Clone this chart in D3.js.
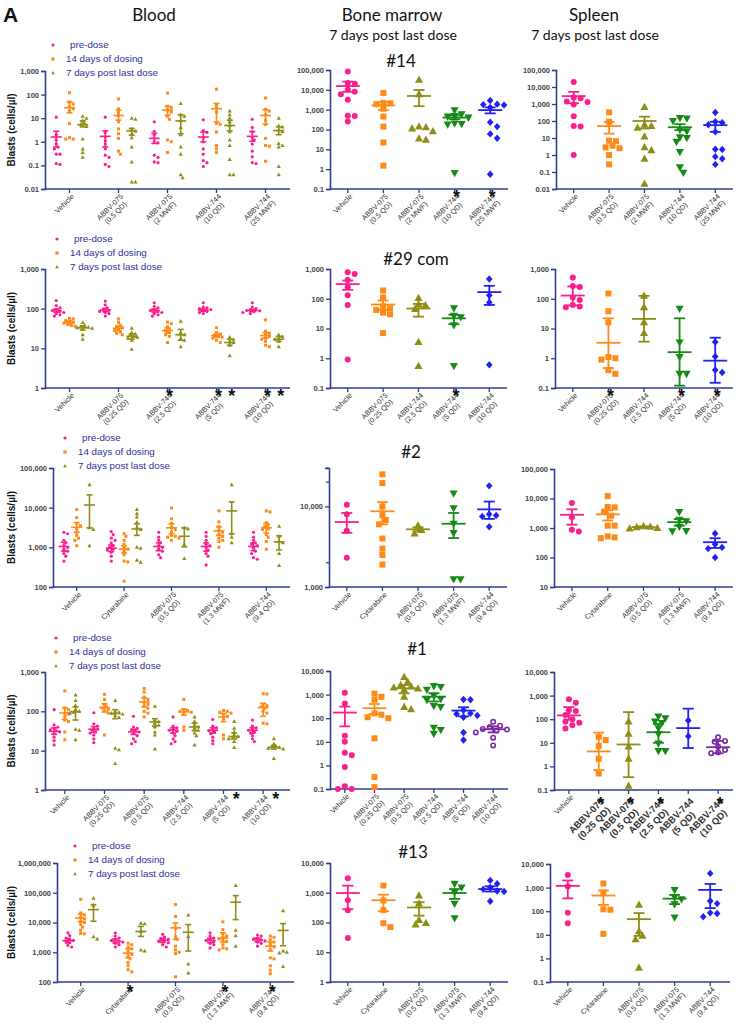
<!DOCTYPE html>
<html><head><meta charset="utf-8">
<script src="https://cdn.jsdelivr.net/npm/d3@7"></script>
<style>body{margin:0;background:#fff}svg{display:block}</style>
</head><body>
<svg id="chart" width="743" height="1030"></svg>
<script>
// ---------------- DATA ----------------
const legendLabels = ["pre-dose", "14 days of dosing", "7 days post last dose"];
const colTitles = ["Blood", "Bone marrow", "Spleen"];
const subTitle = "7 days post last dose";
const rowTitles = ["#14", "#29 com", "#2", "#1", "#13"];
const yLabel = "Blasts (cells/\u00b5l)";

// Row 1 (#14)
const r1Cats = ["Vehicle", "ABBV-075\n(0.5 QD)", "ABBV-075\n(2 MWF)", "ABBV-744\n(10 QD)", "ABBV-744\n(25 MWF)"];
const r1BloodPre = [[11, 2.0, 1.2, 0.8, 0.6, 0.5, 0.3, 0.3, 0.12, 0.11],[11, 2.5, 1.6, 1.1, 0.8, 0.5, 0.27, 0.22, 0.11, 0.09],[7, 2.8, 2.0, 1.4, 1.0, 0.9, 0.27, 0.22, 0.14, 0.13],[8.5, 3, 2.5, 1.5, 1.0, 0.5, 0.3, 0.16, 0.13, 0.09],[9, 4, 2.7, 1.6, 1.2, 0.8, 0.4, 0.23, 0.13, 0.12]];
const r1BloodPreBar = [[1.6,0.6,2.8],[1.7,0.6,2.9],[1.4,0.85,2.3],[1.6,1.0,2.6],[1.7,1.05,2.7]];
const r1BloodD14 = [[120, 48, 40, 30, 25, 20, 6, 1.5, 1.3, 1.3],[65, 25, 18, 13, 7, 3.5, 2.2, 1.4, 0.4, 0.3],[115, 32, 28, 22, 18, 12, 9, 1.2, 1.0, 0.35],[170, 38, 28, 18, 6, 5.5, 2.6, 0.7, 0.5, 0.35],[72, 24, 20, 14, 8, 5.5, 1.4, 0.7, 0.65, 0.15]];
const r1BloodD14Bar = [[28,17,49],[13,8.3,22],[22,13.4,33],[25,7,42],[13,5.6,23]];
const r1BloodPost = [[12, 10, 8, 6, 5.5, 4.5, 1.3, 0.5, 0.35, 0.22],[10, 9, 3.5, 2.8, 2.2, 1.5, 0.6, 0.14, 0.02, 0.02],[42, 14, 12, 8, 4, 2, 0.6, 0.3, 0.04, 0.03],[20, 14, 10, 7, 5, 2.7, 1.2, 0.7, 0.18, 0.04, 0.04],[10, 4.8, 4.2, 3.2, 2.7, 0.85, 0.7, 0.6, 0.09, 0.04]];
const r1BloodPostBar = [[5.3,4.3,7.7],[2.9,1.9,3.7],[7.7,2.2,14],[4.9,2.9,8.2],[3,2,4.3]];
const r1BM = [[85000, 22000, 20000, 10000, 8000, 6000, 3200, 500, 480, 250],[7000, 2200, 2100, 1900, 1100, 450, 140, 22, 1.5],[32000, 6000, 140, 130, 110, 80, 35, 30],[950, 600, 480, 450, 400, 200, 190, 180, 0.65],[2900, 1900, 1800, 1700, 1300, 230, 140, 60, 36, 0.55]];
const r1BMBar = [[15500,8000,26000],[1650,950,2400],[4900,1500,9800],[400,330,520],[950,650,1300]];
const r1Spleen = [[20000, 2400, 2200, 1400, 1300, 950, 190, 50, 48, 1],[320, 90, 7, 6.5, 3.5, 2.8, 2.5, 1.0, 0.28],[650, 60, 50, 40, 12, 2.8, 1.9, 0.6, 0.02],[150, 140, 100, 30, 25, 11, 10, 6, 1.5, 0.19, 0.09],[320, 90, 80, 60, 23, 2.2, 2.1, 0.8, 0.6, 0.28]];
const r1SpleenBar = [[2900,1100,5200],[50,18,90],[100,36,180],[43,29,65],[57,23,90]];
const r1BloodStars = [];
const r1BMStars = [[3,0],[4,0]];
const r1SpleenStars = [];

// Row 2 (#29 com)
const r2Cats = ["Vehicle", "ABBV-075\n(0.25 QD)", "ABBV-744\n(2.5 QD)", "ABBV-744\n(5 QD)", "ABBV-744\n(10 QD)"];
const r2BloodPre = [[160, 120, 105, 95, 90, 85, 80, 75, 70, 65],[155, 125, 105, 95, 90, 85, 80, 75, 65],[140, 115, 105, 95, 90, 85, 80, 75, 70, 65],[140, 110, 105, 100, 95, 90, 85, 80, 75],[140, 110, 100, 95, 90, 88, 85, 80, 75]];
const r2BloodPreBar = [[90,82,98],[93,84,102],[90,82,98],[92,86,98],[90,84,96]];
const r2BloodD14 = [[57, 55, 50, 47, 45, 43, 40, 38, 36],[55, 45, 38, 35, 33, 30, 28, 26, 24, 22],[46, 42, 35, 30, 28, 25, 22, 20, 14],[33, 25, 23, 21, 20, 19, 18, 16, 14],[52, 27, 24, 22, 20, 18, 17, 15, 12, 11]];
const r2BloodD14Bar = [[45,41,49],[32,28,36],[28,24,33],[21,19,23],[21,18,25]];
const r2BloodPost = [[45, 38, 35, 34, 33, 32, 30, 22, 17],[32, 25, 23, 21, 20, 19, 18, 16, 9.5],[48, 25, 22, 18, 16, 11],[19, 17, 15, 14, 12, 6.5],[22, 20, 18, 17, 15, 11]];
const r2BloodPostBar = [[33,29,37],[20,17,23],[22,16,30],[14,12,17],[17,15,20]];
const r2BM = [[780, 680, 430, 250, 130, 62, 0.9],[190, 110, 55, 48, 42, 34, 30, 7],[105, 65, 60, 45, 3.5, 0.55],[48, 27, 24, 13, 0.55],[460, 130, 75, 0.6]];
const r2BMBar = [[310,200,410],[64,42,87],[47,25,67],[22,14,29],[167,62,272]];
const r2Spleen = [[520, 270, 250, 110, 90, 62, 55, 52],[150, 38, 16, 1.1, 1.0, 0.9, 0.4, 0.3],[125, 52, 16, 7],[46, 3.4, 1.1, 0.3, 0.3],[3.5, 1.15, 0.4, 0.33]];
const r2SpleenBar = [[128,60,260],[3.3,0.47,22],[21,3.6,125],[1.6,0.12,22],[0.83,0.15,4.9]];
const r2BloodStars = [[2,1],[3,1],[3,2],[4,1],[4,2]];
const r2BMStars = [[3,0]];
const r2SpleenStars = [[1,0],[3,0],[4,0]];

// Row 3 (#2)
const r3Cats = ["Vehicle", "Cytarabine", "ABBV-075\n(0.5 QD)", "ABBV-075\n(1.3 MWF)", "ABBV-744\n(9.4 QD)"];
const r3BloodPre = [[2400, 2200, 1500, 1300, 1100, 1000, 900, 800, 700, 600, 450],[2500, 2100, 1700, 1500, 1300, 1100, 1000, 900, 850, 750, 600, 450],[2400, 1800, 1500, 1300, 1100, 1000, 900, 800, 650, 550],[2400, 1900, 1500, 1200, 1100, 1000, 850, 700, 600, 360],[2400, 1800, 1500, 1300, 1200, 1100, 950, 800, 700, 550, 500]];
const r3BloodPreBar = [[1050,800,1350],[950,780,1150],[1050,820,1300],[1050,800,1300],[1050,820,1300]];
const r3BloodD14 = [[9000, 5600, 4000, 3500, 3000, 2400, 2000, 1700, 1500, 1100],[2200, 1900, 1500, 1200, 1000, 900, 800, 650, 450, 430, 140],[9800, 5200, 4000, 3200, 2800, 2400, 2000, 1900, 1800, 1700, 1500],[8300, 4400, 3300, 2700, 2400, 2100, 1900, 1700, 1500, 1400, 1000],[8300, 7800, 4200, 3600, 3300, 2900, 2800, 2100, 1800, 1400, 900]];
const r3BloodD14Bar = [[3200,2400,4200],[900,720,1100],[3100,2200,3900],[2600,2000,3300],[3100,2300,4000]];
const r3BloodPost = [[38000, 3100, 2800, 1100],[9000, 7000, 5800, 4300, 3200, 2800, 1000, 950, 470, 420],[3100, 2900, 1200, 520],[38000, 2200, 1800, 1300],[3400, 1900, 1400, 1300, 700, 350]];
const r3BloodPostBar = [[11700,3100,21000],[2900,2000,3900],[1900,1030,3100],[8300,2200,14000],[1380,860,1950]];
const r3BM = [[10500, 8000, 5000, 2300],[25000, 19500, 10000, 7800, 6800, 6000, 4000, 3000, 2500, 1900],[5800, 5100, 4600],[14500, 9500, 6100, 4700, 1250, 1250],[18000, 8000, 7700, 7500, 5600]];
const r3BMBar = [[6400,4700,8300],[8700,6000,11300],[5200,4900,5500],[6100,4050,8300],[9200,7000,11500]];
const r3Spleen = [[7000, 2300, 870, 760],[12000, 5200, 5000, 3600, 2600, 1200, 1200, 520, 480, 450],[1150, 1100, 1050, 1000, 950],[3500, 1900, 1700, 1100, 800, 780],[650, 280, 220, 200, 100]];
const r3SpleenBar = [[2800,1300,4300],[2900,1800,4000],[1080,1020,1140],[1580,1200,2000],[330,210,450]];
const r3BMTicks = [1000, 10000];
const r3BMMinor = [2000, 20000, 30000];

// Row 4 (#1)
const r4Cats = ["Vehicle", "ABBV-075\n(0.25 QD)", "ABBV-075\n(0.5 QD)", "ABBV-744\n(2.5 QD)", "ABBV-744\n(5 QD)", "ABBV-744\n(10 QD)"];
const r4BloodPre = [[110, 45, 40, 37, 34, 32, 30, 27, 22, 18, 14],[92, 48, 42, 38, 35, 33, 30, 28, 25, 20, 16],[75, 40, 37, 34, 32, 30, 27, 24, 20, 17, 15],[72, 42, 38, 35, 33, 31, 28, 24, 20, 17, 15],[62, 42, 38, 35, 32, 30, 27, 22, 18, 15],[60, 42, 38, 35, 33, 30, 28, 24, 20, 17]];
const r4BloodPreBar = [[31,26,38],[35,29,41],[30,26,35],[33,28,38],[33,28,38],[33,28,38]];
const r4BloodD14 = [[330, 120, 110, 90, 85, 75, 60, 55, 30, 19],[270, 200, 150, 130, 120, 110, 100, 90, 25],[380, 310, 230, 200, 170, 150, 135, 120, 100, 90, 72],[200, 110, 105, 100, 95, 90, 40, 33],[105, 100, 95, 90, 85, 75, 65, 25, 20],[280, 275, 150, 140, 130, 120, 100, 90, 50, 48]];
const r4BloodD14Bar = [[91,62,125],[125,97,155],[173,130,220],[97,80,115],[72,55,88],[125,75,160]];
const r4BloodPost = [[260, 190, 140, 110, 100, 95, 90, 35, 33, 19],[190, 100, 95, 90, 85, 80, 70, 11.5, 10.5, 4.7],[135, 60, 55, 50, 45, 40, 30, 25, 11],[72, 55, 45, 40, 37, 33, 28, 24, 14],[55, 37, 30, 25, 23, 21, 20, 17, 12],[20, 15, 13, 12.5, 12, 11.5, 11, 6.3]];
const r4BloodPostBar = [[97,60,130],[88,65,110],[54,42,65],[40,32,50],[23,20,28],[12.2,11,13.5]];
const r4BM = [[1200, 420, 18, 10, 3.4, 2.7, 0.85, 0.13, 0.1, 0.1],[1100, 800, 600, 160, 140, 110, 100, 14, 0.32, 0.12],[5500, 3500, 2500, 2200, 2000, 1800, 1600, 800, 300, 240],[2300, 2100, 1600, 900, 650, 600, 330, 300, 40, 32, 22],[620, 600, 220, 160, 150, 130, 110, 25, 12],[70, 48, 42, 35, 33, 30, 25, 15, 7]];
const r4BMBar = [[173,45,310],[265,150,400],[1850,1130,2550],[820,510,1150],[210,120,290],[34,25,45]];
const r4Spleen = [[700, 500, 240, 220, 150, 100, 80, 70, 55, 40],[18, 13, 7.3, 2.1, 0.5],[80, 24, 7, 2.1, 0.15],[130, 110, 80, 70, 42, 24, 9.5, 4.5, 4.5],[88, 19],[17, 12, 11, 7, 5, 4, 3.6]];
const r4SpleenBar = [[145,95,325],[4.3,0.7,27],[8.5,0.35,200],[28,10,63],[42,6,280],[6.5,3.6,12]];
const r4BloodStars = [[4,2],[5,2]];
const r4BMStars = [];
const r4SpleenStars = [[1,0],[2,0],[3,0],[5,0]];

// Row 5 (#13)
const r5Cats = ["Vehicle", "Cytarabine", "ABBV-075\n(0.5 QD)", "ABBV-075\n(1.3 MWF)", "ABBV-744\n(9.4 QD)"];
const r5BloodPre = [[4500, 3600, 3000, 2700, 2500, 2300, 2100, 1700, 1500],[4500, 3500, 3000, 2700, 2500, 2300, 2200, 2000, 1800, 1500],[4000, 3200, 2900, 2700, 2500, 2300, 2100, 1800, 1500],[4500, 3500, 3000, 2700, 2500, 2300, 2000, 1800, 1400],[3800, 3500, 3000, 2800, 2600, 2400, 2200, 2000, 1600]];
const r5BloodPreBar = [[2450,2050,2900],[2400,2050,2800],[2500,2150,2900],[2500,2100,2950],[2600,2250,2950]];
const r5BloodD14 = [[60000, 21000, 18000, 15000, 13000, 11000, 10000, 8500, 7000, 5500, 4300, 4200],[2000, 1800, 1500, 1300, 1000, 850, 750, 600, 450, 350, 260, 220],[40000, 16000, 6500, 3300, 2700, 1600, 1200, 1000, 900, 150],[10500, 5800, 4200, 3500, 3200, 2800, 2500, 2300, 1800, 1400, 1300, 1200],[3500, 3200, 2600, 2200, 1800, 1500, 1200, 650, 600, 350, 250, 190]];
const r5BloodD14Bar = [[14000,10500,19000],[940,650,1300],[6600,2700,9600],[3000,2200,4500],[1600,1100,2200]];
const r5BloodPost = [[65000, 38000, 3300, 2800],[9500, 9000, 5000, 1200, 1100],[18000, 3400, 400, 200],[175000, 5500, 3600, 1600],[25000, 1100, 1000, 950, 330]];
const r5BloodPostBar = [[27000,11000,40000],[5000,3400,7400],[4700,1100,8500],[48000,12500,80000],[5400,1650,9200]];
const r5BM = [[3100, 560, 260, 30],[1750, 550, 260, 95, 70],[800, 430, 120, 95, 85],[2000, 1500, 1050, 430, 140],[2600, 2000, 1500, 1300, 1150, 1100, 520]];
const r5BMBar = [[980,280,1730],[560,240,860],[320,170,480],[980,620,1330],[1330,1100,1650]];
const r5Spleen = [[3400, 1100, 85, 31],[1500, 620, 120, 115, 11],[185, 14, 9, 6.5, 0.4],[800, 400, 320, 200, 55],[4000, 270, 210, 85, 80, 58]];
const r5SpleenBar = [[1180,350,2000],[460,185,750],[46,9,83],[340,200,490],[800,135,1430]];
const r5BloodStars = [[1,1],[3,1],[4,1]];

// ---------------- STYLE / LAYOUT ----------------
const FONT = "'Liberation Sans', Arial, sans-serif";
const TFONT = "Lato, 'Open Sans', sans-serif";
const AX = "#2f3c8e";
const COL = {pink:"#fb1f8b", orange:"#ff8a17", olive:"#8e8e16", green:"#168a16", blue:"#1f22f2", purple:"#7b2aa6"};
const bloodColors = [COL.pink, COL.orange, COL.olive];
const bloodShapes = ["circle", "square", "triangle"];
const organColors = [COL.pink, COL.orange, COL.olive, COL.green, COL.blue, COL.purple];
const organShapes = ["circle", "square", "triangle", "triangleDown", "diamond", "openCircle"];

const svg = d3.select("#chart");

function markerPath(shape, s) {
  if (shape === "square") return `M${-s/2},${-s/2}h${s}v${s}h${-s}Z`;
  if (shape === "triangle") return `M0,${-s*0.62}L${s*0.58},${s*0.42}L${-s*0.58},${s*0.42}Z`;
  if (shape === "triangleDown") return `M0,${s*0.62}L${s*0.58},${-s*0.42}L${-s*0.58},${-s*0.42}Z`;
  if (shape === "diamond") return `M0,${-s*0.62}L${s*0.55},0L0,${s*0.62}L${-s*0.55},0Z`;
  return null;
}
function drawMarker(g, shape, x, y, s, color) {
  if (shape === "circle") g.append("circle").attr("cx", x).attr("cy", y).attr("r", s/2).attr("fill", color);
  else if (shape === "openCircle") g.append("circle").attr("cx", x).attr("cy", y).attr("r", s/2 - 0.8).attr("fill", "none").attr("stroke", color).attr("stroke-width", 1.6);
  else g.append("path").attr("transform", `translate(${x},${y})`).attr("d", markerPath(shape, s)).attr("fill", color);
}
function swarm(vals, cx, yScale, d) {
  const placed = [];
  const pts = vals.map(v => ({v, y: yScale(v)})).sort((a, b) => a.y - b.y);
  pts.forEach(p => {
    let off = 0;
    for (let i = 0; i < 60; i++) {
      const cand = i === 0 ? 0 : (i % 2 ? 1 : -1) * Math.ceil(i / 2) * d * 0.55;
      if (placed.every(q => (q.x - cand) ** 2 + (q.y - p.y) ** 2 >= d * d * 0.8)) { off = cand; break; }
    }
    placed.push({x: off, y: p.y, v: p.v});
  });
  return placed.map(p => ({x: cx + p.x, y: p.y}));
}
function errBar(g, cx, bar, y, meanW, capW, color, sw) {
  const [m, lo, hi] = bar;
  g.append("line").attr("x1", cx).attr("x2", cx).attr("y1", y(lo)).attr("y2", y(hi)).attr("stroke", color).attr("stroke-width", sw);
  g.append("line").attr("x1", cx - meanW/2).attr("x2", cx + meanW/2).attr("y1", y(m)).attr("y2", y(m)).attr("stroke", color).attr("stroke-width", sw);
  [lo, hi].forEach(v => g.append("line").attr("x1", cx - capW/2).attr("x2", cx + capW/2).attr("y1", y(v)).attr("y2", y(v)).attr("stroke", color).attr("stroke-width", sw));
}

function drawPanel(p) {
  const g = svg.append("g");
  const y = d3.scaleLog().domain(p.domain).range([p.y1, p.y0]);
  const x = d3.scalePoint().domain(d3.range(p.cats.length)).range([p.x0, p.x1]).padding(0.5);
  const step = x.step();
  const e0 = Math.round(Math.log10(p.domain[0])), e1 = Math.floor(Math.log10(p.domain[1]) + 1e-9);
  const ticks = p.ticks || d3.range(e0, e1 + 1).map(e => Math.pow(10, e));
  // Y axis
  const ya = g.append("g").attr("transform", `translate(${p.x0},0)`)
    .call(d3.axisLeft(y).tickValues(ticks).tickFormat(d3.format(",")).tickSizeOuter(0).tickSize(4).tickPadding(2));
  ya.select(".domain").attr("stroke", AX).attr("stroke-width", 1.6);
  ya.selectAll(".tick line").attr("stroke", AX).attr("stroke-width", 1.3);
  ya.selectAll(".tick text").attr("fill", "#454545").attr("font-size", 7.5).attr("font-weight", "bold").attr("font-family", FONT);
  (p.minor || []).forEach(v => g.append("line").attr("x1", p.x0 - 3).attr("x2", p.x0).attr("y1", y(v)).attr("y2", y(v)).attr("stroke", AX).attr("stroke-width", 1.2));
  // X axis
  g.append("line").attr("x1", p.x0).attr("x2", p.xEnd || p.x1).attr("y1", p.y1).attr("y2", p.y1).attr("stroke", AX).attr("stroke-width", 1.6);
  p.cats.forEach((c, i) => {
    g.append("line").attr("x1", x(i)).attr("x2", x(i)).attr("y1", p.y1).attr("y2", p.y1 + 4).attr("stroke", AX).attr("stroke-width", 1.3);
    const lines = c.split("\n");
    const big = p.labelBig && i > 0;
    const fs = big ? 9.5 : 7.3;
    const lg = g.append("g").attr("transform", `translate(${x(i) + (big ? 6 : 5)},${p.y1 + (big ? 12 : 8)}) rotate(-45)`)
      .attr("font-family", FONT).attr("font-size", fs).attr("font-weight", big ? "bold" : "normal").attr("fill", "#333");
    const t1 = lg.append("text").attr("text-anchor", "end").text(lines[0]);
    if (lines.length > 1) {
      const w1 = t1.node().getComputedTextLength();
      lg.append("text").attr("text-anchor", "middle").attr("x", -w1/2).attr("y", fs * 1.12).text(lines[1]);
    }
  });
  // Data
  const offs = p.kind === "blood" ? [-0.27 * step, 0, 0.27 * step] : [0];
  p.series.forEach((ser, si) => {
    ser.values.forEach((vals, gi) => {
      const color = p.kind === "blood" ? bloodColors[si] : organColors[gi];
      const shape = p.kind === "blood" ? bloodShapes[si] : organShapes[gi];
      const size = p.kind === "blood" ? (shape === "circle" ? 3.2 : shape === "square" ? 3 : 3.6) : (shape === "triangle" || shape === "triangleDown" ? 7 : 6);
      const cx = x(gi) + offs[si];
      swarm(vals, cx, y, p.kind === "blood" ? 3.4 : 6.3).forEach(pt => drawMarker(g, shape, pt.x, pt.y, size, color));
      if (p.kind === "blood") errBar(g, cx, ser.bars[gi], y, 11, 6, color, 1.6);
      else errBar(g, cx, ser.bars[gi], y, 24, 11, color, 1.8);
    });
  });
  // Stars
  (p.stars || []).forEach(([gi, si]) => {
    g.append("text").attr("x", x(gi) + offs[si] + (p.starDx || 2)).attr("y", p.y1 + (p.starDy || 4) + 10)
      .attr("text-anchor", "middle").attr("font-family", FONT).attr("font-weight", "bold").attr("font-size", 18).attr("fill", "#111").text("*");
  });
  // Blood extras: y label + legend
  if (p.kind === "blood") {
    svg.append("text").attr("transform", `translate(15,${(p.y0 + p.y1) / 2}) rotate(-90)`).attr("text-anchor", "middle")
      .attr("font-family", FONT).attr("font-weight", "bold").attr("font-size", 10).attr("fill", "#111").text(yLabel);
    legendLabels.forEach((lab, i) => {
      const ly = p.legend.ys[i];
      drawMarker(svg, bloodShapes[i], p.legend.mx, ly - 3, 3.2, bloodColors[i]);
      svg.append("text").attr("x", p.legend.tx + (i === 0 ? 4 : 0)).attr("y", ly).attr("font-family", FONT).attr("font-size", 9.8).attr("fill", "#30309a").text(lab);
    });
  }
}

const rows = [
  {cats: r1Cats, title: {x: 401, y: 67},
   blood: {x0: 45, x1: 290, y0: 71, y1: 189, domain: [0.01, 1000], legend: {mx: 53, tx: 66, ys: [48, 62, 76]},
     series: [{values: r1BloodPre, bars: r1BloodPreBar}, {values: r1BloodD14, bars: r1BloodD14Bar}, {values: r1BloodPost, bars: r1BloodPostBar}], stars: r1BloodStars},
   bm: {x0: 330, x1: 508, y0: 70, y1: 189, domain: [0.1, 100000], series: [{values: r1BM, bars: r1BMBar}], stars: r1BMStars},
   sp: {x0: 556, x1: 733, y0: 70, y1: 189, domain: [0.01, 100000], series: [{values: r1Spleen, bars: r1SpleenBar}], stars: r1SpleenStars}},
  {cats: r2Cats, title: {x: 416, y: 265},
   blood: {x0: 45, x1: 290, y0: 269, y1: 388, domain: [1, 1000], legend: {mx: 57, tx: 70, ys: [242, 256, 270]},
     series: [{values: r2BloodPre, bars: r2BloodPreBar}, {values: r2BloodD14, bars: r2BloodD14Bar}, {values: r2BloodPost, bars: r2BloodPostBar}], stars: r2BloodStars},
   bm: {x0: 330, x1: 507, y0: 269, y1: 388, domain: [0.1, 1000], series: [{values: r2BM, bars: r2BMBar}], stars: r2BMStars},
   sp: {x0: 555, x1: 733, y0: 269, y1: 388, domain: [0.1, 1000], series: [{values: r2Spleen, bars: r2SpleenBar}], stars: r2SpleenStars}},
  {cats: r3Cats, title: {x: 411, y: 458},
   blood: {x0: 53, x1: 290, y0: 468, y1: 587, domain: [100, 100000], legend: {mx: 65, tx: 78, ys: [441, 455, 469]},
     series: [{values: r3BloodPre, bars: r3BloodPreBar}, {values: r3BloodD14, bars: r3BloodD14Bar}, {values: r3BloodPost, bars: r3BloodPostBar}], stars: []},
   bm: {x0: 329, x1: 507, y0: 468, y1: 587, domain: [1000, 30000], ticks: r3BMTicks, minor: r3BMMinor, series: [{values: r3BM, bars: r3BMBar}], stars: []},
   sp: {x0: 554, x1: 733, y0: 469, y1: 587, domain: [10, 100000], series: [{values: r3Spleen, bars: r3SpleenBar}], stars: []}},
  {cats: r4Cats, title: {x: 417, y: 655},
   blood: {x0: 45, x1: 283, xEnd: 290, y0: 672, y1: 790, domain: [1, 1000], legend: {mx: 56, tx: 69, ys: [641, 655, 669]},
     series: [{values: r4BloodPre, bars: r4BloodPreBar}, {values: r4BloodD14, bars: r4BloodD14Bar}, {values: r4BloodPost, bars: r4BloodPostBar}], stars: r4BloodStars, starDy: 5},
   bm: {x0: 330, x1: 508, y0: 671, y1: 789, domain: [0.1, 10000], series: [{values: r4BM, bars: r4BMBar}], stars: r4BMStars},
   sp: {x0: 554, x1: 733, y0: 672, y1: 790, domain: [0.1, 10000], series: [{values: r4Spleen, bars: r4SpleenBar}], stars: r4SpleenStars, starDy: 10, labelBig: true}},
  {cats: r5Cats, title: {x: 413, y: 858},
   blood: {x0: 57, x1: 294, y0: 863, y1: 982, domain: [100, 1000000], legend: {mx: 75, tx: 88, ys: [849, 863, 877]},
     series: [{values: r5BloodPre, bars: r5BloodPreBar}, {values: r5BloodD14, bars: r5BloodD14Bar}, {values: r5BloodPost, bars: r5BloodPostBar}], stars: r5BloodStars, starDy: 6},
   bm: {x0: 330, x1: 508, y0: 863, y1: 982, domain: [1, 10000], series: [{values: r5BM, bars: r5BMBar}], stars: []},
   sp: {x0: 550, x1: 728, xEnd: 730, y0: 864, y1: 982, domain: [0.1, 10000], series: [{values: r5Spleen, bars: r5SpleenBar}], stars: []}}
];

rows.forEach((r, ri) => {
  drawPanel(Object.assign({kind: "blood", cats: r.cats}, r.blood));
  drawPanel(Object.assign({kind: "organ", cats: r.cats}, r.bm));
  drawPanel(Object.assign({kind: "organ", cats: r.cats}, r.sp));
  svg.append("text").attr("x", r.title.x).attr("y", r.title.y).attr("text-anchor", "middle").attr("font-family", TFONT).attr("font-size", 17).attr("fill", "#111").text(rowTitles[ri]);
});

// Headers
svg.append("text").attr("x", 3).attr("y", 22).attr("font-family", FONT).attr("font-weight", "bold").attr("font-size", 21).attr("fill", "#111").text("A");
[[154, colTitles[0]], [392, colTitles[1]], [594, colTitles[2]]].forEach(([cx, t]) =>
  svg.append("text").attr("x", cx).attr("y", 21).attr("text-anchor", "middle").attr("font-family", TFONT).attr("font-size", 17).attr("fill", "#111").text(t));
[393, 595].forEach(cx => svg.append("text").attr("x", cx).attr("y", 40).attr("text-anchor", "middle").attr("font-family", TFONT).attr("font-size", 14).attr("fill", "#111").text(subTitle));
</script>
</body></html>
